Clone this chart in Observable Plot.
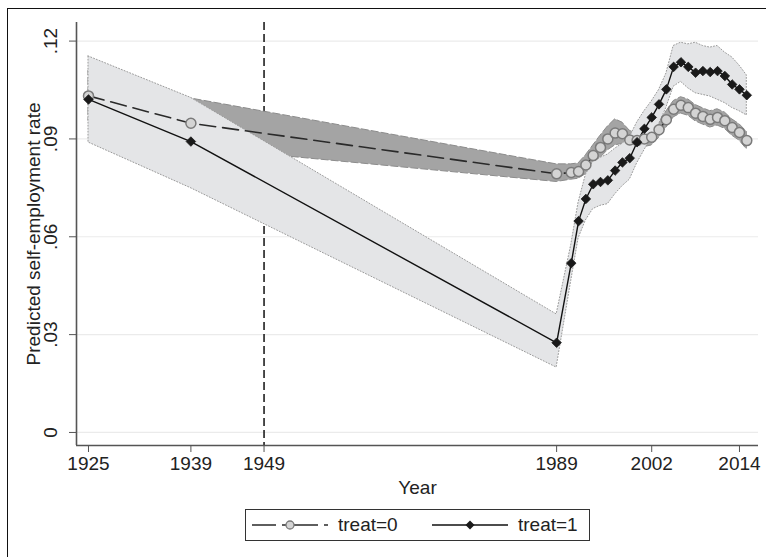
<!DOCTYPE html>
<html>
<head>
<meta charset="utf-8">
<script src="https://cdn.jsdelivr.net/npm/d3@7"></script>
<script src="https://cdn.jsdelivr.net/npm/@observablehq/plot@0.6"></script>
<style>
  html, body { margin: 0; padding: 0; background: #fff; }
  body { width: 766px; height: 557px; overflow: hidden; position: relative; font-family: "Liberation Sans", Arial, sans-serif; }
  #frame { position: absolute; left: 7px; top: 8px; width: 820px; height: 620px; border: 1.5px solid #111; box-sizing: border-box; pointer-events: none; }
  #chart { position: absolute; left: 0; top: 0; }
  #legend { position: absolute; left: 245px; top: 509px; width: 345px; height: 32px; border: 1px solid #333; box-sizing: border-box; background: #fff; }
  #legend .lab { position: absolute; top: 4px; font-size: 19px; color: #222; line-height: 22px; }
  #legend svg { position: absolute; top: 5px; }
</style>
</head>
<body>
<div id="chart"></div>
<div id="legend"></div>
<div id="frame"></div>
<script>
// ---- data ----
const years = [1925, 1939, 1989, 1991, 1992, 1993, 1994, 1995, 1996, 1997, 1998, 1999, 2000, 2001, 2002, 2003, 2004, 2005, 2006, 2007, 2008, 2009, 2010, 2011, 2012, 2013, 2014, 2015];
const treat0 = [0.1032, 0.0948, 0.0793, 0.0797, 0.0800, 0.0820, 0.0849, 0.0874, 0.0900, 0.0918, 0.0916, 0.0897, 0.0895, 0.0900, 0.0905, 0.0928, 0.0959, 0.0991, 0.1003, 0.0996, 0.0979, 0.0969, 0.0960, 0.0966, 0.0956, 0.0935, 0.0920, 0.0895];
const treat0Lo = [0.0955, 0.0874, 0.0768, 0.0775, 0.0778, 0.0792, 0.0818, 0.0842, 0.0865, 0.0880, 0.0885, 0.0870, 0.0870, 0.0875, 0.0880, 0.0903, 0.0934, 0.0966, 0.0978, 0.0971, 0.0954, 0.0944, 0.0935, 0.0941, 0.0931, 0.0910, 0.0895, 0.0868];
const treat0Hi = [0.1110, 0.1024, 0.0822, 0.0822, 0.0825, 0.0850, 0.0880, 0.0910, 0.0938, 0.0960, 0.0950, 0.0925, 0.0920, 0.0925, 0.0930, 0.0953, 0.0984, 0.1016, 0.1028, 0.1021, 0.1004, 0.0994, 0.0985, 0.0991, 0.0981, 0.0960, 0.0945, 0.0922];
const treat1 = [0.1021, 0.0892, 0.0275, 0.0519, 0.0648, 0.0716, 0.0761, 0.0768, 0.0773, 0.0803, 0.0828, 0.0841, 0.0890, 0.0931, 0.0966, 0.1006, 0.1052, 0.1121, 0.1135, 0.1121, 0.1103, 0.1108, 0.1105, 0.1108, 0.1093, 0.1067, 0.1052, 0.1034];
const treat1Lo = [0.0889, 0.0749, 0.0199, 0.0465, 0.0595, 0.0650, 0.0685, 0.0695, 0.0700, 0.0730, 0.0755, 0.0775, 0.0825, 0.0865, 0.0905, 0.0945, 0.0995, 0.1060, 0.1075, 0.1055, 0.1040, 0.1035, 0.1030, 0.1020, 0.1010, 0.0995, 0.0985, 0.0972];
const treat1Hi = [0.1153, 0.1026, 0.0362, 0.0575, 0.0705, 0.0790, 0.0830, 0.0842, 0.0852, 0.0870, 0.0885, 0.0905, 0.0950, 0.0985, 0.1015, 0.1050, 0.1100, 0.1185, 0.1195, 0.1190, 0.1195, 0.1185, 0.1180, 0.1185, 0.1165, 0.1150, 0.1125, 0.1095];
const cutoffYear = [1949];
const xTicks = [1925, 1939, 1949, 1989, 2002, 2014];
const yTicks = [0, 0.03, 0.06, 0.09, 0.12];
const yTickLabels = ["0", ".03", ".06", ".09", ".12"];
const xTitle = "Year";
const yTitle = "Predicted self-employment rate";
const legendLabels = ["treat=0", "treat=1"];

// ---- build tables ----
const t0 = years.map((yr, i) => ({year: yr, y: treat0[i], lo: treat0Lo[i], hi: treat0Hi[i]}));
const t1 = years.map((yr, i) => ({year: yr, y: treat1[i], lo: treat1Lo[i], hi: treat1Hi[i]}));

const xDomain = [1923.36, 2016.6];
const yDomain = [-0.004, 0.1257];
const font = "'Liberation Sans', Arial, Helvetica, sans-serif";

const chart = Plot.plot({
  width: 766,
  height: 500,
  marginLeft: 76,
  marginRight: 8,
  marginTop: 22,
  marginBottom: 55,
  x: {domain: xDomain},
  y: {domain: yDomain},
  style: {fontFamily: font, fontSize: "19px", color: "#222", background: "transparent", overflow: "visible"},
  marks: [
    Plot.gridY(yTicks, {stroke: "#ebebeb", strokeOpacity: 1, strokeWidth: 1.2}),
    Plot.ruleX(cutoffYear, {stroke: "#111", strokeWidth: 1.5, strokeDasharray: "8,4"}),
    Plot.areaY(t0, {x: "year", y1: "lo", y2: "hi", fill: "#a4a4a4", stroke: "#8c8c8c", strokeWidth: 1, strokeDasharray: "7,3"}),
    Plot.areaY(t1, {x: "year", y1: "lo", y2: "hi", fill: "#e4e5e7", stroke: "#9a9a9a", strokeWidth: 1, strokeDasharray: "1,2"}),
    Plot.line(t0, {x: "year", y: "y", stroke: "#2a2a2a", strokeWidth: 1.6, strokeDasharray: "16,7"}),
    Plot.line(t1, {x: "year", y: "y", stroke: "#111", strokeWidth: 1.4}),
    Plot.dot(t0, {x: "year", y: "y", r: 5, fill: "#d4d4d4", stroke: "#7a7a7a", strokeWidth: 1.5}),
    Plot.dot(t1, {x: "year", y: "y", r: 4.3, symbol: "diamond2", fill: "#1a1a1a", stroke: "#1a1a1a", strokeWidth: 0.8}),
    Plot.ruleY([yDomain[0]], {stroke: "#555", strokeWidth: 1.6}),
    Plot.ruleX([xDomain[0]], {stroke: "#555", strokeWidth: 1.6}),
    Plot.axisX(xTicks, {tickSize: 7, tickPadding: 4, stroke: "#555", fill: "#222", tickFormat: d => String(d), label: null, fontSize: 19}),
    Plot.axisY(yTicks, {tickSize: 7, tickPadding: 13, tickRotate: -90, stroke: "#555", fill: "#222", tickFormat: d => yTickLabels[yTicks.indexOf(d)], label: null, fontSize: 19}),
    Plot.text([xTitle], {frameAnchor: "bottom", dy: 42, lineAnchor: "middle", textAnchor: "middle", fill: "#222", fontSize: 19}),
    Plot.text([yTitle], {frameAnchor: "left", dx: -43, rotate: -90, textAnchor: "middle", lineAnchor: "middle", fill: "#222", fontSize: 19})
  ]
});
document.getElementById("chart").appendChild(chart);

// ---- legend ----
const legend = d3.select("#legend");
const s0 = legend.append("svg").attr("width", 76).attr("height", 20).style("left", "6px");
s0.append("line").attr("x1", 0).attr("x2", 76).attr("y1", 10).attr("y2", 10)
  .attr("stroke", "#2a2a2a").attr("stroke-width", 1.5).attr("stroke-dasharray", "24,6,6,6,24,6");
s0.append("circle").attr("cx", 38).attr("cy", 10).attr("r", 4).attr("fill", "#d4d4d4").attr("stroke", "#7a7a7a").attr("stroke-width", 1.3);
legend.append("div").attr("class", "lab").style("left", "92px").text(legendLabels[0]);
const s1 = legend.append("svg").attr("width", 76).attr("height", 20).style("left", "186px");
s1.append("line").attr("x1", 0).attr("x2", 76).attr("y1", 10).attr("y2", 10)
  .attr("stroke", "#111").attr("stroke-width", 1.4);
s1.append("path").attr("d", "M38,5.5L42.5,10L38,14.5L33.5,10Z").attr("fill", "#1a1a1a");
legend.append("div").attr("class", "lab").style("left", "272px").text(legendLabels[1]);
</script>
</body>
</html>
